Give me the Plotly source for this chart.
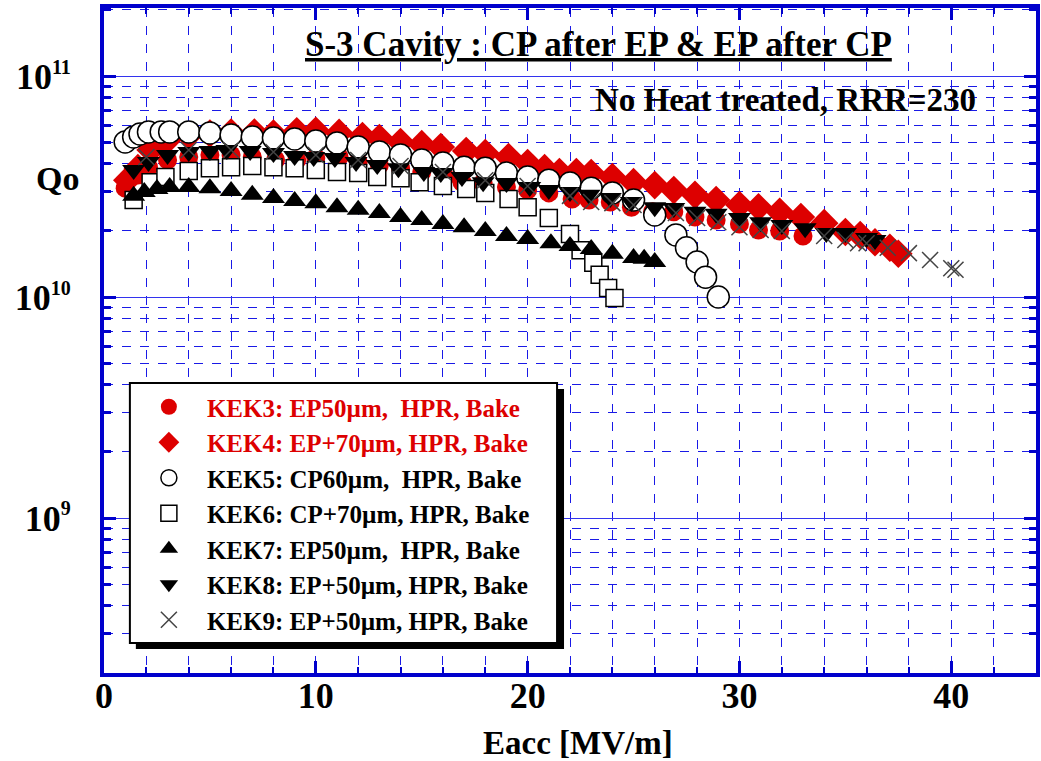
import plotly.graph_objects as go

FONT = "Liberation Serif"
RED = "#DD0000"
BLUE = "#0000CC"
GRID = "#1a1aE6"

# ---- data: Eacc [MV/m] and Qo [x 1e10] ----
kek3_e = [1.0, 1.6, 2.1, 3.0, 4.0, 5.0, 6.0, 7.0, 8.1, 9.1, 10.0, 11.1, 12.0, 13.0, 14.0, 15.0, 16.1, 16.9,
          17.9, 19.0, 20.0, 21.0, 22.1, 22.9, 23.9, 24.9, 25.9, 26.9, 27.9, 28.9, 30.0, 30.9, 31.9, 33.0]
kek3_q = [3.11, 3.57, 3.87, 4.17, 4.30, 4.39, 4.39, 4.30, 4.17, 4.17, 4.26, 4.30, 4.08, 3.96, 3.83, 3.68, 3.49, 3.31,
          3.28, 3.15, 3.05, 2.96, 2.78, 2.75, 2.69, 2.55, 2.43, 2.43, 2.30, 2.23, 2.14, 2.01, 1.99, 1.89]

kek4_e = [1.1, 1.6, 2.2, 3.0, 4.0, 5.0, 6.0, 7.1, 8.0, 9.1, 10.0, 11.1, 12.2, 13.0, 14.0, 15.0, 15.9, 17.1, 18.0,
          19.1, 20.0, 20.8, 21.5, 22.3, 23.0, 24.0, 25.0, 26.0, 26.9, 27.9, 28.9, 30.0, 30.9, 31.9, 32.9, 34.0,
          35.0, 35.7, 36.4, 37.1, 37.5]
kek4_q = [3.38, 3.83, 4.63, 5.13, 5.40, 5.50, 5.55, 5.55, 5.50, 5.62, 5.65, 5.53, 5.35, 5.24, 5.03, 4.92, 4.77, 4.58,
          4.48, 4.30, 4.04, 3.83, 3.68, 3.68, 3.64, 3.49, 3.31, 3.21, 3.05, 2.90, 2.75, 2.61, 2.55, 2.43, 2.30,
          2.16, 1.97, 1.91, 1.77, 1.67, 1.57]

kek5_e = [1.0, 1.4, 1.7, 2.1, 2.7, 3.1, 4.0, 5.0, 6.0, 7.0, 8.0, 9.0, 10.0, 11.0, 12.0, 13.0, 14.0, 15.0, 16.0,
          17.0, 18.0, 19.0, 20.0, 21.0, 22.0, 23.0, 24.0, 25.0, 26.0, 27.0, 27.5, 28.0, 28.4, 29.0]
kek5_q = [5.03, 5.30, 5.47, 5.59, 5.59, 5.59, 5.59, 5.53, 5.41, 5.30, 5.24, 5.19, 5.08, 4.98, 4.77, 4.53, 4.39, 4.17,
          4.04, 3.87, 3.83, 3.64, 3.49, 3.38, 3.28, 3.11, 2.96, 2.75, 2.35, 1.91, 1.67, 1.44, 1.23, 1.00]

kek6_e = [1.4, 2.2, 2.9, 4.0, 5.0, 6.0, 7.0, 8.0, 9.0, 10.0, 11.0, 12.0, 12.9, 14.0, 14.9, 16.0, 17.1, 18.0, 19.1,
          20.0, 21.0, 22.0, 22.5, 23.1, 23.4, 23.8, 24.1]
kek6_q = [2.75, 3.31, 3.49, 3.72, 3.83, 3.87, 3.92, 3.87, 3.83, 3.76, 3.68, 3.64, 3.49, 3.45, 3.31, 3.18, 3.08, 2.96,
          2.78, 2.55, 2.28, 1.93, 1.63, 1.43, 1.26, 1.10, 0.99]

kek7_e = [1.4, 1.9, 2.5, 3.1, 4.0, 5.0, 6.0, 7.0, 8.0, 9.0, 10.0, 11.0, 12.0, 13.0, 14.0, 15.0, 16.0, 17.0, 18.0,
          19.0, 20.0, 21.1, 22.0, 23.0, 24.0, 25.0, 25.5, 26.0]
kek7_q = [2.87, 2.99, 3.08, 3.15, 3.15, 3.11, 3.02, 2.90, 2.81, 2.72, 2.66, 2.55, 2.48, 2.40, 2.30, 2.23, 2.14, 2.07,
          1.99, 1.89, 1.83, 1.75, 1.70, 1.65, 1.57, 1.50, 1.49, 1.44]

kek8_e = [1.4, 2.1, 3.0, 4.0, 5.0, 5.8, 6.9, 8.0, 9.0, 9.9, 10.9, 11.9, 12.9, 13.9, 15.1, 15.9, 16.9, 17.9, 19.0,
          20.1, 21.0, 22.0, 22.9, 23.9, 24.9, 26.0, 26.9, 27.9, 28.9, 30.0, 31.0, 32.0, 33.1, 34.1, 35.0, 36.0, 36.4]
kek8_q = [3.76, 4.08, 4.39, 4.53, 4.58, 4.63, 4.58, 4.48, 4.35, 4.30, 4.26, 4.08, 3.96, 3.83, 3.68, 3.64, 3.49, 3.31,
          3.28, 3.15, 3.05, 2.99, 2.90, 2.81, 2.69, 2.55, 2.53, 2.43, 2.38, 2.28, 2.18, 2.12, 2.05, 1.95, 1.95,
          1.85, 1.81]

kek9_e = [2.0, 4.0, 6.0, 8.0, 10.0, 12.0, 14.0, 16.0, 18.0, 20.0, 22.0, 23.0, 24.0, 25.0, 27.0, 28.0, 29.0, 30.0,
          31.0, 32.0, 34.0, 35.0, 35.6, 36.0, 37.0, 38.0, 39.0, 40.0, 40.2]
kek9_q = [4.30, 4.63, 4.63, 4.53, 4.39, 4.17, 3.92, 3.68, 3.38, 3.18, 2.87, 2.69, 2.66, 2.61, 2.40, 2.28, 2.18, 2.07,
          2.01, 1.99, 1.89, 1.81, 1.75, 1.75, 1.67, 1.58, 1.47, 1.35, 1.33]

names = ["KEK3: EP50\u00b5m,\u00a0 HPR, Bake",
         "KEK4: EP+70\u00b5m, HPR, Bake",
         "KEK5: CP60\u00b5m,\u00a0 HPR, Bake",
         "KEK6: CP+70\u00b5m, HPR, Bake",
         "KEK7: EP50\u00b5m,\u00a0 HPR, Bake",
         "KEK8: EP+50\u00b5m, HPR, Bake",
         "KEK9: EP+50\u00b5m, HPR, Bake"]

styles = [
    dict(symbol="circle", size=19, color=RED, line=dict(width=0), txt=RED),
    dict(symbol="diamond", size=22, color=RED, line=dict(width=0), txt=RED),
    dict(symbol="circle", size=22, color="white", line=dict(width=1.5, color="black"), txt="black"),
    dict(symbol="square", size=17, color="white", line=dict(width=1.5, color="black"), txt="black"),
    dict(symbol="triangle-up", size=20, color="black", line=dict(width=0), txt="black"),
    dict(symbol="triangle-down", size=20, color="black", line=dict(width=0), txt="black"),
    dict(symbol="x-thin-open", size=16, color="#444444", line=dict(width=1.5, color="#444444"), txt="black"),
]

data = [(kek3_e, kek3_q), (kek4_e, kek4_q), (kek5_e, kek5_q), (kek6_e, kek6_q),
        (kek7_e, kek7_q), (kek8_e, kek8_q), (kek9_e, kek9_q)]

fig = go.Figure()
for (e, q), nm, st in zip(data, names, styles):
    fig.add_trace(go.Scatter(
        x=e, y=[v * 1e10 for v in q], mode="markers",
        name=f"<span style='color:{st['txt']}'>{nm}</span>",
        marker=dict(symbol=st["symbol"], size=st["size"], color=st["color"], line=st["line"]),
    ))

minor_y = [m * 10 ** k for k in (8, 9, 10, 11) for m in range(2, 10)]
SUP = "<sup><span style='font-size:20px'>{}</span></sup>"

# plot area in pixels: x 104..1040, y 8..673
def px(x):
    return (x - 104) / 936

def py(y):
    return (673 - y) / 665

fig.update_layout(
    width=1041, height=761,
    margin=dict(l=104, r=1, t=8, b=88),
    paper_bgcolor="white", plot_bgcolor="white",
    font=dict(family=FONT, color="black"),
    showlegend=True,
    legend=dict(x=px(131), y=py(384), xanchor="left", yanchor="top",
                bgcolor="rgba(0,0,0,0)", borderwidth=0,
                font=dict(family=FONT, size=25, color="black", weight="bold"),
                itemwidth=66, tracegroupgap=0),
    xaxis=dict(range=[0, 44], tick0=0, dtick=10, ticks="inside", ticklen=12, tickwidth=2.5,
               tickcolor=BLUE, showline=True, linecolor=BLUE, linewidth=4, mirror="allticks",
               showgrid=True, gridcolor=GRID, griddash="dash", gridwidth=1, zeroline=False,
               ticklabelstandoff=-12,
               tickfont=dict(family=FONT, size=36, color="black", weight="bold"),
               minor=dict(dtick=2, ticks="inside", ticklen=6, tickwidth=2, tickcolor=BLUE,
                          showgrid=True, gridcolor=GRID, griddash="dash", gridwidth=1)),
    yaxis=dict(type="log", range=[8.2986, 11.308], tickmode="array",
               tickvals=[1e9, 1e10, 1e11],
               ticktext=["10" + SUP.format(9), "10" + SUP.format(10), "10" + SUP.format(11)],
               ticks="inside", ticklen=12, tickwidth=3, tickcolor=BLUE,
               showline=True, linecolor=BLUE, linewidth=4, mirror="allticks",
               showgrid=True, gridcolor="#3333EE", gridwidth=1, zeroline=False,
               ticklabelstandoff=22,
               tickfont=dict(family=FONT, size=36, color="black", weight="bold"),
               minor=dict(tickmode="array", tickvals=minor_y, ticks="inside", ticklen=7, tickwidth=3,
                          tickcolor=BLUE, showgrid=True, gridcolor=GRID, griddash="dash", gridwidth=1)),
)

# legend frame with drop shadow
fig.add_shape(type="rect", xref="paper", yref="paper",
              x0=px(136), x1=px(566), y0=py(649), y1=py(389),
              fillcolor="black", line=dict(width=0), layer="above")
fig.add_shape(type="rect", xref="paper", yref="paper",
              x0=px(130), x1=px(559), y0=py(643), y1=py(383),
              fillcolor="white", line=dict(width=2, color="black"), layer="above")

ann_font = dict(family=FONT, color="black", weight="bold")
common = dict(xref="paper", yref="paper", showarrow=False, xanchor="center", yanchor="middle")
fig.add_annotation(x=px(601), y=py(44),
                   text="<u>S-3 Cavity : CP after EP &amp; EP after CP</u>",
                   font=dict(size=35, **ann_font), **common)
fig.add_annotation(x=px(788), y=py(100),
                   text="No Heat treated, RRR=230", font=dict(size=33, **ann_font), **common)
fig.add_annotation(x=px(57), y=py(178),
                   text="Qo", font=dict(size=34, **ann_font), **common)
fig.add_annotation(x=px(580), y=py(743),
                   text="Eacc [MV/m]", font=dict(size=33, **ann_font), **common)

fig.write_html("out.html")
